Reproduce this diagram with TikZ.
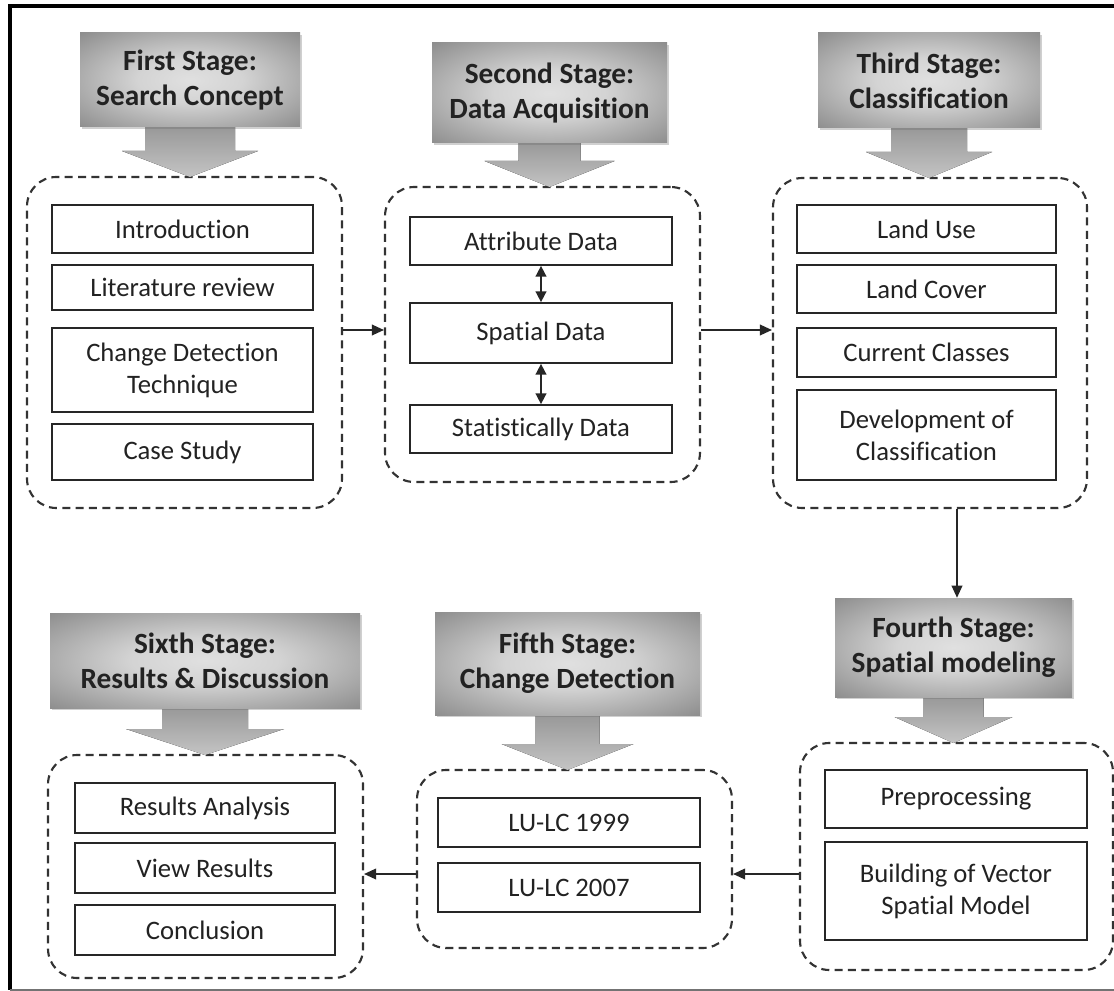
\documentclass[tikz,border=0pt]{standalone}
\usepackage{fontspec}
\setmainfont{Carlito}[Ligatures=NoCommon]
\usetikzlibrary{arrows.meta,shadows}

\definecolor{hdrlight}{HTML}{E0E0E0}
\definecolor{hdrdark}{HTML}{626262}
\definecolor{arrtop}{HTML}{979797}
\definecolor{arrbot}{HTML}{C4C4C4}
\definecolor{txt}{HTML}{222222}

% soft grey gradient of the stage banners
\pgfdeclareradialshading{hdrshade}{\pgfpoint{0bp}{0bp}}{%
  color(0bp)=(hdrlight); color(12bp)=(hdrlight!90!hdrdark); color(50bp)=(hdrdark)}

\tikzset{
  innerbox/.style={draw=black!85, line width=1.3pt, fill=white, text=txt,
    font=\fontsize{20}{24}\selectfont, align=center, inner sep=0pt},
  group/.style={draw=black!80, line width=1.6pt, dash pattern=on 6pt off 4pt,
    rounded corners=22pt, inner sep=0pt},
  header/.style={shading=hdrshade, draw=none, text=txt,
    font=\bfseries\fontsize{22}{26}\selectfont, align=center, inner sep=0pt,
    drop shadow={shadow xshift=1.5pt, shadow yshift=-1.5pt, opacity=.3, fill=black!60}},
  arrowfill/.style={top color=arrtop, bottom color=arrbot, draw=none},
  flow/.style={draw=black!85, line width=1.1pt, -{Triangle[length=9pt,width=8pt]}},
  twoway/.style={draw=black!85, line width=1.2pt,
    {Triangle[length=8pt,width=8pt]}-{Triangle[length=8pt,width=8pt]}},
}

% inner box: name, x1, y1, x2, y2, text
\newcommand{\ibox}[6]{%
  \node[innerbox, minimum width={(#4-#2)*0.75pt}, minimum height={(#5-#3)*0.75pt}]
    (#1) at ({(#2+#4)/2},{(#3+#5)/2}) {#6};}
% dashed group: name, x1, y1, x2, y2
\newcommand{\grp}[5]{%
  \node[group, minimum width={(#4-#2)*0.75pt}, minimum height={(#5-#3)*0.75pt}]
    (#1) at ({(#2+#4)/2},{(#3+#5)/2}) {};}
% stage banner with its block arrow:
% name, x1, y1, x2, y2, shaft half width, head half width, tip y, text
\newcommand{\stagehead}[9]{%
  \pgfmathsetmacro{\hcx}{(#2+#4)/2}
  \fill[arrowfill] (\hcx-#6,#5-2) -- (\hcx-#6,#8-26) -- (\hcx-#7,#8-26) -- (\hcx,#8)
    -- (\hcx+#7,#8-26) -- (\hcx+#6,#8-26) -- (\hcx+#6,#5-2) -- cycle;
  \node[header, minimum width={(#4-#2)*0.75pt}, minimum height={(#5-#3)*0.75pt}]
    (#1) at (\hcx,{(#3+#5)/2}) {#9};}

\begin{document}
\begin{tikzpicture}[x=0.75pt,y=-0.75pt]
\useasboundingbox (0,0) rectangle (1114,991);
\fill[white] (0,0) rectangle (1114,991);

% frame
\draw[line width=3pt] (8,6) -- (1114,6);
\draw[line width=3pt] (10,5) -- (10,990);
\draw[black!55, line width=1pt] (10,990) -- (1114,990);

% dashed groups
\grp{g1}{27}{177}{342}{508}
\grp{g2}{385}{187}{700}{482}
\grp{g3}{773}{178}{1087}{508}
\grp{g4}{800}{743}{1113}{970}
\grp{g5}{417}{770}{732}{948}
\grp{g6}{48}{755}{363}{978}

% stage banners
\stagehead{h1}{80}{33}{300}{127}{45}{68}{177}{First Stage:\\Search Concept}
\stagehead{h2}{432}{43}{667}{143}{31}{65}{187}{Second Stage:\\Data Acquisition}
\stagehead{h3}{818}{33}{1040}{128}{38}{63}{178}{Third Stage:\\Classification}
\stagehead{h4}{835}{598}{1072}{697}{30}{59}{743}{Fourth Stage:\\Spatial modeling}
\stagehead{h5}{435}{612}{700}{715}{32}{66}{770}{Fifth Stage:\\Change Detection}
\stagehead{h6}{50}{613}{360}{708}{43}{79}{755}{Sixth Stage:\\Results \& Discussion}

% first stage
\ibox{intro}{52}{205}{313}{253}{Introduction}
\ibox{lit}{52}{265}{313}{310}{Literature review}
\ibox{cdt}{52}{328}{313}{412}{Change Detection\\Technique}
\ibox{cs}{52}{424}{313}{480}{Case Study}

% second stage
\ibox{att}{410}{217}{672}{265}{Attribute Data}
\ibox{spa}{410}{303}{672}{363}{Spatial Data}
\ibox{sta}{410}{405}{672}{453}{Statistically Data}
\draw[twoway] (att.south) -- (spa.north);
\draw[twoway] (spa.south) -- (sta.north);

% third stage
\ibox{lu}{797}{205}{1056}{253}{Land Use}
\ibox{lc}{797}{265}{1056}{313}{Land Cover}
\ibox{cc}{797}{328}{1056}{377}{Current Classes}
\ibox{dev}{797}{390}{1056}{480}{Development of\\Classification}

% fourth stage
\ibox{pre}{825}{770}{1087}{828}{Preprocessing}
\ibox{bvs}{825}{842}{1087}{940}{Building of Vector\\Spatial Model}

% fifth stage
\ibox{l99}{438}{798}{700}{847}{LU-LC 1999}
\ibox{l07}{438}{863}{700}{912}{LU-LC 2007}

% sixth stage
\ibox{ra}{75}{783}{335}{833}{Results Analysis}
\ibox{vr}{75}{843}{335}{893}{View Results}
\ibox{con}{75}{905}{335}{955}{Conclusion}

% flow between stages
\coordinate (rowtop) at (0,330);
\coordinate (rowbot) at (0,874);
\coordinate (downx) at (957,0);
\draw[flow] (g1.east |- rowtop) -- (g2.west |- rowtop);
\draw[flow] (g2.east |- rowtop) -- (g3.west |- rowtop);
\draw[flow] (downx |- g3.south) -- (downx |- h4.north);
\draw[flow] (g4.west |- rowbot) -- (g5.east |- rowbot);
\draw[flow] (g5.west |- rowbot) -- (g6.east |- rowbot);
\end{tikzpicture}
\end{document}
